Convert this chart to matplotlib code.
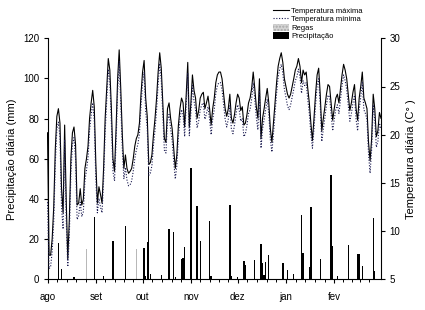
import numpy as np
import matplotlib
matplotlib.use("Agg")
import matplotlib.pyplot as plt
from matplotlib.patches import Patch
from matplotlib.lines import Line2D
from matplotlib.transforms import ScaledTranslation

plt.rcParams['font.family'] = ['Liberation Sans', 'DejaVu Sans']

# day 0 = 1 ago
month_days = [0, 31, 61, 92, 122, 153, 184, 212]
month_labels = ["ago", "set", "out", "nov", "dez", "jan", "fev"]

# daily temperature (C)
t_max = [
    20.2, 7.5, 7.5, 9.2, 12.5, 18.5, 21.9, 22.7, 21.2, 14.4,
    11.9, 21.0, 13.3, 7.1, 11.2, 17.5, 20.2, 20.8, 19.0, 12.7,
    12.9, 14.4, 12.7, 13.3, 16.5, 17.5, 18.8, 21.7, 23.3, 24.6,
    22.9, 17.1, 12.9, 14.6, 13.8, 12.9, 16.5, 21.7, 24.8, 27.9,
    26.7, 22.7, 17.5, 16.2, 20.6, 25.8, 28.8, 24.8, 20.0, 16.5,
    17.9, 16.5, 16.0, 16.2, 16.5, 17.5, 18.8, 19.6, 20.0, 21.2,
    24.2, 26.5, 27.7, 23.8, 21.9, 16.9, 17.1, 17.9, 20.0, 21.7,
    23.8, 26.5, 28.5, 26.9, 23.3, 19.6, 19.2, 22.7, 23.3, 21.7,
    20.6, 18.5, 16.5, 17.9, 21.0, 22.7, 23.8, 23.3, 20.8, 24.2,
    27.5, 20.8, 23.3, 26.2, 24.6, 23.8, 21.7, 22.5, 23.8, 24.2,
    24.4, 22.7, 23.3, 24.0, 22.7, 21.0, 22.7, 23.8, 25.4, 26.2,
    26.5, 26.5, 25.8, 24.2, 22.7, 21.9, 22.7, 24.2, 21.7, 21.2,
    22.1, 23.3, 24.2, 23.8, 22.5, 22.9, 21.0, 21.2, 22.1, 23.3,
    23.8, 24.8, 26.5, 24.8, 22.9, 21.7, 25.8, 19.6, 21.7, 22.7,
    23.8, 24.8, 23.3, 20.6, 19.2, 21.2, 23.3, 25.4, 27.1, 27.9,
    28.5, 27.5, 25.8, 25.0, 24.2, 23.8, 24.2, 25.0, 25.8, 26.7,
    27.1, 27.9, 27.1, 25.4, 26.7, 26.2, 26.5, 24.8, 23.3, 21.2,
    19.4, 21.7, 24.2, 26.2, 26.9, 24.2, 20.4, 21.7, 22.9, 24.2,
    25.2, 25.0, 23.3, 21.5, 22.7, 23.8, 24.2, 23.3, 24.8, 26.2,
    27.3, 26.7, 25.8, 24.2, 22.5, 23.3, 24.4, 25.2, 22.7, 21.5,
    23.8, 25.0, 26.5, 23.8, 23.3, 22.7, 19.2, 17.3, 19.6, 24.2,
    22.7, 19.8, 20.4, 22.3, 21.7,
]
t_min = [
    13.0, 6.1, 6.3, 7.9, 11.0, 17.0, 20.6, 21.3, 19.8, 12.5,
    10.2, 19.5, 11.3, 6.3, 9.5, 16.0, 19.0, 19.7, 17.5, 11.2,
    11.6, 13.0, 11.5, 12.0, 15.2, 16.3, 17.6, 20.5, 22.0, 23.3,
    21.5, 15.5, 11.9, 13.4, 12.5, 11.9, 15.3, 20.3, 23.5, 26.8,
    25.5, 21.2, 16.2, 15.2, 19.2, 24.6, 27.6, 23.3, 18.6, 15.4,
    16.6, 15.3, 14.7, 14.8, 15.2, 16.2, 17.5, 18.4, 19.0, 20.1,
    23.0, 25.4, 26.5, 22.4, 20.7, 15.8, 16.0, 16.8, 18.9, 20.5,
    22.6, 25.3, 27.4, 25.7, 22.0, 18.4, 18.1, 21.5, 22.1, 20.6,
    19.4, 17.2, 15.4, 16.8, 19.8, 21.6, 22.6, 22.1, 19.8, 23.0,
    26.4, 19.9, 22.2, 25.1, 23.5, 22.6, 20.7, 21.4, 22.6, 23.1,
    23.3, 21.6, 22.2, 22.9, 21.6, 20.0, 21.6, 22.6, 24.3, 25.1,
    25.4, 25.4, 24.7, 23.1, 21.6, 20.8, 21.6, 23.0, 20.6, 20.1,
    21.0, 22.2, 23.1, 22.6, 21.4, 21.7, 19.8, 20.1, 21.0, 22.2,
    22.6, 23.7, 25.4, 23.7, 21.8, 20.5, 24.6, 18.6, 20.6, 21.6,
    22.6, 23.7, 22.2, 19.5, 18.2, 20.1, 22.2, 24.3, 26.0, 26.8,
    27.3, 26.4, 24.7, 23.9, 23.0, 22.6, 23.1, 23.9, 24.7, 25.6,
    26.0, 26.8, 26.0, 24.3, 25.6, 25.1, 25.4, 23.7, 22.2, 20.1,
    18.6, 20.6, 23.1, 25.1, 25.8, 23.1, 19.3, 20.6, 21.8, 23.1,
    24.1, 23.9, 22.2, 20.4, 21.6, 22.6, 23.1, 22.2, 23.7, 25.1,
    26.2, 25.6, 24.7, 23.1, 21.4, 22.2, 23.3, 24.1, 21.6, 20.4,
    22.6, 23.9, 25.4, 22.6, 22.2, 21.6, 18.0, 16.0, 18.5, 23.1,
    21.6, 18.7, 19.3, 21.2, 20.6,
]

# daily precipitation (mm)
rain_day = [7, 9, 17, 30, 36, 42, 50, 62, 63, 64, 65, 66, 73, 78, 81, 82,
            86, 87, 88, 92, 96, 98, 104, 105, 117, 118, 122, 126, 127, 133,
            137, 138, 139, 140, 142, 151, 154, 158, 163, 164, 168, 169, 175,
            182, 183, 186, 193, 199, 200, 202, 209, 210]
rain_mm = [18, 5, 1, 31, 1.5, 19, 26.5, 15.5, 1.5, 18.5, 56, 2.5, 2, 25, 23.5, 1,
           10, 10.5, 16, 55.5, 36.5, 19, 29, 1.5, 37, 1.5, 1, 9, 7, 9.5,
           17.5, 8, 2, 8.5, 12, 8, 4.5, 2.5, 32, 13, 6, 36, 10,
           52, 16.5, 1.5, 17, 12.5, 12.5, 6.5, 30.5, 4]

# irrigation (mm)
rega_day = [25, 57]
rega_mm = [15, 15]

days = np.arange(len(t_max))

fig = plt.figure(figsize=(4.25, 3.10), dpi=100)
ax = fig.add_axes([47.5 / 425, 1 - 279.3 / 310, (381 - 47.5) / 425, (279.3 - 38.3) / 310])
ax2 = ax.twinx()

ax.bar(rega_day, rega_mm, width=0.7, color='#b8b8b8', linewidth=0)
ax.bar(rain_day, rain_mm, width=0.9, color='black', linewidth=0)
ax2.plot(days, t_max, color='black', lw=0.8)
ax2.plot(days, t_min, color='#1a1a50', lw=0.8, ls=(0, (1, 1.5)))

ax.set_xlim(0, 214)
ax.set_ylim(0, 120)
ax2.set_ylim(5, 30)
ax.set_yticks(range(0, 121, 20))
ax2.set_yticks(range(5, 31, 5))

ax.set_xticks(month_days[:-1])
ax.set_xticklabels(month_labels)
minor = []
for a, b in zip(month_days[:-1], month_days[1:]):
    minor += [a + k * (b - a) / 5 for k in range(1, 5)]
ax.set_xticks(minor, minor=True)
shift = ScaledTranslation(-3 / 100, 0, fig.dpi_scale_trans)
for lab in ax.get_xticklabels():
    lab.set_transform(lab.get_transform() + shift)

# each spine drawn once
ax.spines['top'].set_visible(False)
ax.spines['right'].set_visible(False)
for s in ('top', 'left', 'bottom'):
    ax2.spines[s].set_visible(False)
for a in (ax, ax2):
    for s in a.spines.values():
        s.set_linewidth(0.8)

ax.tick_params(axis='both', which='major', direction='out', length=3, width=0.8,
               labelsize=7, pad=3)
ax.tick_params(axis='x', which='major', pad=6)
ax.tick_params(axis='x', which='minor', direction='out', length=2, width=0.7)
ax2.tick_params(axis='y', direction='out', length=3, width=0.8, labelsize=7, pad=3)

ax.set_ylabel("Precipitação diária (mm)", fontsize=8, labelpad=4)
ax2.set_ylabel("Temperatura diária (C° )", fontsize=8, labelpad=4)

handles = [
    Line2D([], [], color='black', lw=0.8),
    Line2D([], [], color='#1a1a50', lw=0.8, ls=(0, (1, 1.5))),
    Patch(facecolor='#d4d4d4', edgecolor='#a8a8a8', hatch='.....', linewidth=0),
    Patch(facecolor='black', linewidth=0),
]
labels = ["Temperatura máxima", "Temperatura mínima", "Regas", "Precipitação"]
fig.legend(handles, labels, loc='upper left', bbox_to_anchor=(273 / 425, 1 - 7 / 310),
           frameon=False, fontsize=5.5, handlelength=2.1, handleheight=1.0,
           labelspacing=0.05, handletextpad=0.3, borderpad=0, borderaxespad=0)

fig.savefig("out.png", dpi=100)
